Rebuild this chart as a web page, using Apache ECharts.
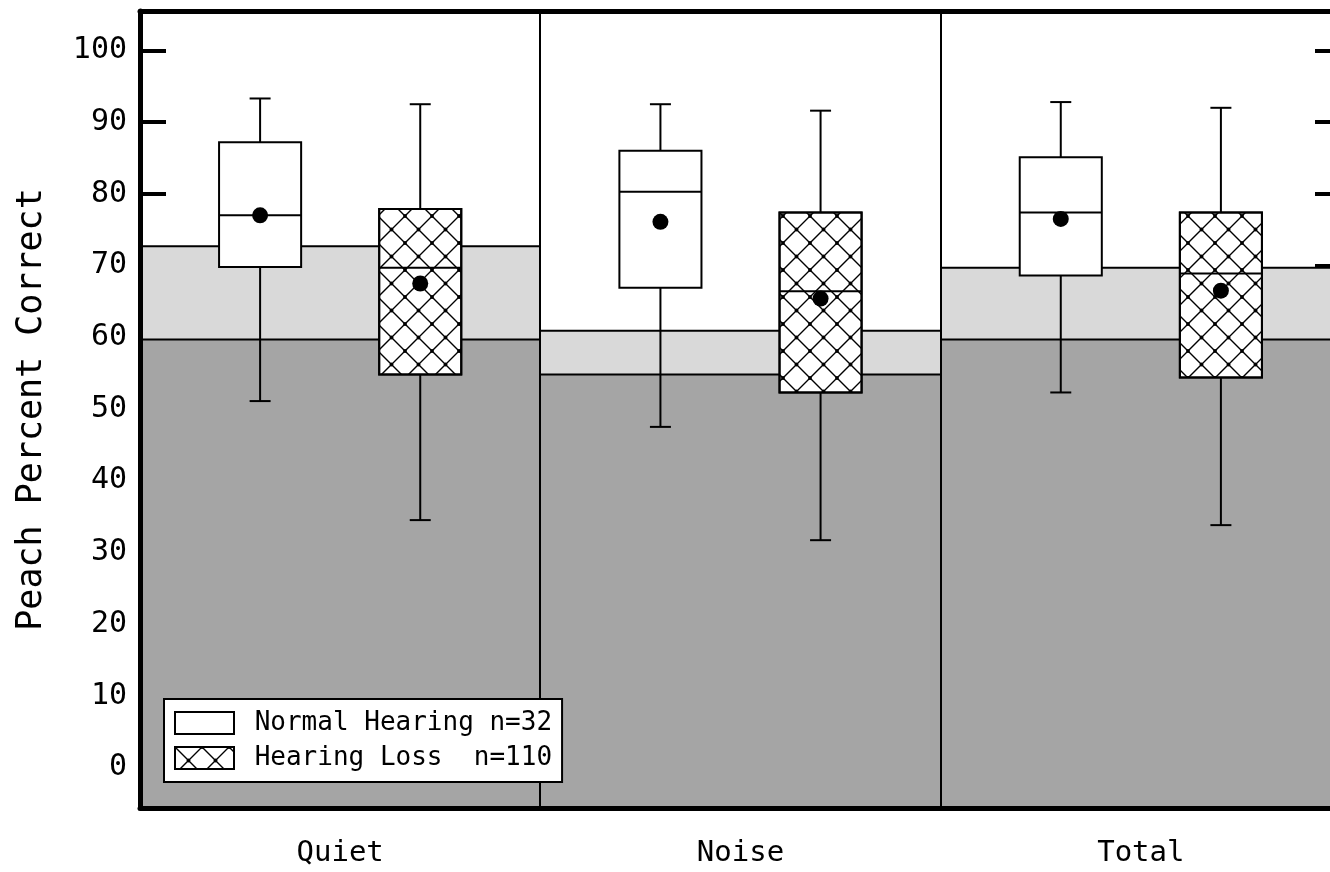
<!DOCTYPE html>
<html>
<head>
<meta charset="utf-8">
<script src="https://cdn.jsdelivr.net/npm/echarts@6/dist/echarts.min.js"></script>
<style>
  html, body { margin: 0; padding: 0; background: #fff; }
  #chart { width: 1330px; height: 872px; }
</style>
</head>
<body>
<div id="chart"></div>
<script>
// Listening conditions (one panel each)
const categories = ['Quiet', 'Noise', 'Total'];

// Normal hearing group (n=32)
const normalHigh   = [93.3, 92.5, 92.8];
const normalQ3     = [87.2, 86.0, 85.1];
const normalMedian = [77.0, 80.3, 77.4];
const normalMean   = [77.0, 76.1, 76.5];
const normalQ1     = [69.8, 66.9, 68.6];
const normalLow    = [51.1, 47.5, 52.3];

// Hearing loss group (n=110)
const lossHigh   = [92.5, 91.6, 92.0];
const lossQ3     = [77.9, 77.4, 77.4];
const lossMedian = [69.7, 66.4, 68.9];
const lossMean   = [67.5, 65.4, 66.5];
const lossQ1     = [54.8, 52.3, 54.4];
const lossLow    = [34.5, 31.7, 33.8];

// Shaded reference regions per condition
const darkBandTop  = [59.7, 54.8, 59.7];
const lightBandTop = [72.7, 60.9, 69.7];

// Y axis tick values
const yTicks = [0, 10, 20, 30, 40, 50, 60, 70, 80, 90, 100];
const yMin = -5.65, yMax = 105.5;

const seriesNames = ['Normal Hearing n=32', 'Hearing Loss  n=110'];

const FONT = 'DejaVu Sans Mono';

// Cross-hatch tile used for the hearing-loss boxes
function makeHatch(size) {
  const c = document.createElement('canvas');
  c.width = size; c.height = size;
  const g = c.getContext('2d');
  g.strokeStyle = '#000';
  g.lineWidth = 1.4;
  g.beginPath();
  g.moveTo(0, 0); g.lineTo(size, size);
  g.moveTo(size, 0); g.lineTo(0, size);
  g.stroke();
  g.fillStyle = '#000';
  const pts = [[size / 2, size / 2], [0, 0], [size, 0], [0, size], [size, size]];
  pts.forEach(p => { g.beginPath(); g.arc(p[0], p[1], 1.9, 0, Math.PI * 2); g.fill(); });
  return { image: c, repeat: 'repeat' };
}
const hatch = makeHatch(27);

const boxFrac = 0.205;
const groupOffset = 0.2;

function boxRenderer(offset, patterned) {
  return function (params, api) {
    const i = api.value(0);
    const bw = api.size([1, 0])[0];
    const cx = api.coord([i, 0])[0] + offset * bw;
    const half = boxFrac * bw / 2;
    const y = k => api.coord([i, api.value(k)])[1];
    const yLow = y(1), yQ1 = y(2), yMed = y(3), yQ3 = y(4), yHigh = y(5), yMean = y(6);
    const capHalf = 10.5;
    const ls = { stroke: '#000', lineWidth: 2 };
    const children = [
      { type: 'line', shape: { x1: cx, y1: yLow, x2: cx, y2: yHigh }, style: ls },
      { type: 'line', shape: { x1: cx - capHalf, y1: yLow, x2: cx + capHalf, y2: yLow }, style: ls },
      { type: 'line', shape: { x1: cx - capHalf, y1: yHigh, x2: cx + capHalf, y2: yHigh }, style: ls },
      { type: 'rect', shape: { x: cx - half, y: yQ3, width: 2 * half, height: yQ1 - yQ3 },
        style: { fill: '#fff', stroke: '#000', lineWidth: 2 } }
    ];
    if (patterned) {
      children.push({ type: 'rect', shape: { x: cx - half, y: yQ3, width: 2 * half, height: yQ1 - yQ3 },
        style: { fill: hatch, stroke: '#000', lineWidth: 2 } });
    }
    children.push(
      { type: 'line', shape: { x1: cx - half, y1: yMed, x2: cx + half, y2: yMed }, style: ls },
      { type: 'circle', shape: { cx: cx, cy: yMean, r: 8 }, style: { fill: '#000' } }
    );
    return { type: 'group', children: children };
  };
}

// Shaded regions per panel; each panel after the first draws its left divider
function bandRenderer(params, api) {
  const i = api.value(0);
  const bw = api.size([1, 0])[0];
  const left = api.coord([i, 0])[0] - bw / 2;
  const yBottom = api.coord([i, yMin])[1];
  const yTop = api.coord([i, yMax])[1];
  const yDark = api.coord([i, api.value(1)])[1];
  const yLight = api.coord([i, api.value(2)])[1];
  const ls = { stroke: '#000', lineWidth: 2 };
  const children = [
    { type: 'rect', shape: { x: left, y: yLight, width: bw, height: yDark - yLight }, style: { fill: '#d9d9d9' } },
    { type: 'rect', shape: { x: left, y: yDark, width: bw, height: yBottom - yDark }, style: { fill: '#a5a5a5' } },
    { type: 'line', shape: { x1: left, y1: yLight, x2: left + bw, y2: yLight }, style: ls },
    { type: 'line', shape: { x1: left, y1: yDark, x2: left + bw, y2: yDark }, style: ls }
  ];
  if (i > 0) {
    const x = Math.round(left);
    children.push({ type: 'line', shape: { x1: x, y1: yTop, x2: x, y2: yBottom }, style: ls });
  }
  return { type: 'group', children: children };
}

const chart = echarts.init(document.getElementById('chart'), null, { renderer: 'canvas' });

const frameLine = { show: true, onZero: false, lineStyle: { color: '#000', width: 5 } };

chart.setOption({
  animation: false,
  backgroundColor: '#fff',
  grid: { left: 140, top: 11, width: 1201, bottom: 64, containLabel: false, outerBoundsMode: 'none' },
  legend: {
    data: seriesNames,
    orient: 'vertical',
    left: 164, top: 699,
    backgroundColor: '#fff',
    borderColor: '#000', borderWidth: 2,
    padding: [11, 10, 11, 10],
    itemGap: 9,
    itemWidth: 59, itemHeight: 22,
    icon: 'rect',
    selectedMode: false,
    itemStyle: { borderColor: '#000', borderWidth: 2 },
    formatter: name => ' ' + name,
    textStyle: { fontFamily: FONT, fontSize: 26, color: '#000', lineHeight: 26 }
  },
  xAxis: [
    {
      type: 'category', data: categories, position: 'bottom', z: 10,
      axisLine: frameLine, axisTick: { show: false }, splitLine: { show: false },
      axisLabel: { fontFamily: FONT, fontSize: 29, color: '#000', margin: 31 }
    },
    {
      type: 'category', data: categories, position: 'top', z: 10,
      axisLine: frameLine, axisTick: { show: false }, axisLabel: { show: false }, splitLine: { show: false }
    }
  ],
  yAxis: [
    {
      type: 'value', min: yMin, max: yMax, position: 'left', z: 10,
      name: 'Peach Percent Correct', nameLocation: 'middle', nameGap: 91, nameRotate: 90,
      nameTextStyle: { fontFamily: FONT, fontSize: 35, color: '#000' },
      axisLine: frameLine, axisTick: { show: false }, splitLine: { show: false },
      axisLabel: { customValues: yTicks, fontFamily: FONT, fontSize: 30, color: '#000', margin: 13 }
    },
    {
      type: 'value', min: yMin, max: yMax, position: 'left', z: 0,
      axisLine: { show: false }, splitLine: { show: false }, axisLabel: { show: false },
      axisTick: { show: true, inside: true, length: 26, customValues: yTicks, lineStyle: { color: '#000', width: 4 } }
    },
    {
      type: 'value', min: yMin, max: yMax, position: 'right', z: 0,
      axisLine: { show: false }, splitLine: { show: false }, axisLabel: { show: false },
      axisTick: { show: true, inside: true, length: 26, customValues: yTicks, lineStyle: { color: '#000', width: 4 } }
    }
  ],
  series: [
    {
      type: 'custom', name: 'bands', z: 1, silent: true,
      renderItem: bandRenderer,
      encode: { x: 0, y: [1, 2] },
      data: categories.map((c, i) => [i, darkBandTop[i], lightBandTop[i]])
    },
    {
      type: 'custom', name: seriesNames[0], z: 3,
      itemStyle: { color: '#fff', borderColor: '#000', borderWidth: 2 },
      renderItem: boxRenderer(-groupOffset, false),
      encode: { x: 0, y: [1, 2, 3, 4, 5, 6] },
      data: categories.map((c, i) => [i, normalLow[i], normalQ1[i], normalMedian[i], normalQ3[i], normalHigh[i], normalMean[i]])
    },
    {
      type: 'custom', name: seriesNames[1], z: 3,
      itemStyle: { color: hatch, borderColor: '#000', borderWidth: 2 },
      renderItem: boxRenderer(groupOffset, true),
      encode: { x: 0, y: [1, 2, 3, 4, 5, 6] },
      data: categories.map((c, i) => [i, lossLow[i], lossQ1[i], lossMedian[i], lossQ3[i], lossHigh[i], lossMean[i]])
    }
  ]
});
</script>
</body>
</html>
